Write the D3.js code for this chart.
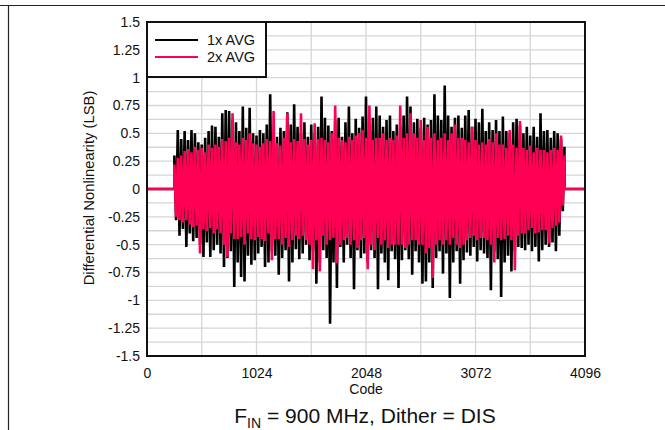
<!DOCTYPE html>
<html><head><meta charset="utf-8">
<script src="https://cdn.jsdelivr.net/npm/d3@7"></script>
<style>
html,body{margin:0;padding:0;background:#fff;}
svg{display:block;font-family:"Liberation Sans",Arial,sans-serif;}
</style></head>
<body><svg id="c" width="665" height="430"></svg>
<script>
// ---- data ----
const codeStart = 256;      // first measured code
const codeStep = 16;        // spacing of the sampled codes
const codeMax = 4095;
const xTicks = [0, 1024, 2048, 3072, 4096];
const yTicks = [-1.5, -1.25, -1, -0.75, -0.5, -0.25, 0, 0.25, 0.5, 0.75, 1, 1.25, 1.5];
const seriesNames = ["1x AVG", "2x AVG"];
const seriesColors = ["#000000", "#ff0055"];

const dnl1x = [
 0.30,-0.28,0.53,-0.42,0.45,-0.36,0.52,-0.52,0.44,-0.40,0.53,-0.47,
 0.50,-0.44,0.42,-0.50,0.40,-0.61,0.46,-0.48,0.52,-0.61,0.57,-0.55,
 0.56,-0.50,0.47,-0.58,0.68,-0.70,0.71,-0.62,0.70,-0.56,0.62,-0.88,
 0.60,-0.66,0.52,-0.79,0.74,-0.83,0.55,-0.60,0.73,-0.68,0.50,-0.64,
 0.48,-0.58,0.53,-0.52,0.50,-0.70,0.58,-0.66,0.85,-0.56,0.50,-0.60,
 0.47,-0.77,0.55,-0.62,0.52,-0.55,0.69,-0.83,0.58,-0.66,0.76,-0.54,
 0.56,-0.63,0.50,-0.58,0.60,-0.50,0.47,-0.64,0.58,-0.55,0.50,-0.85,
 0.56,-0.66,0.83,-0.55,0.64,-0.62,0.57,-1.21,0.52,-0.66,0.62,-0.89,
 0.64,-0.52,0.47,-0.66,0.60,-0.50,0.74,-0.62,0.50,-0.90,0.63,-0.55,
 0.55,-0.62,0.65,-0.58,0.83,-0.66,0.58,-0.55,0.64,-0.62,0.74,-0.90,
 0.66,-0.58,0.56,-0.66,0.62,-0.82,0.66,-0.56,0.52,-0.63,0.58,-0.89,
 0.56,-0.64,0.66,-0.55,0.83,-0.63,0.74,-0.77,0.60,-0.56,0.63,-0.66,
 0.55,-0.85,0.64,-0.83,0.58,-0.66,0.62,-0.89,0.85,-0.62,0.66,-0.56,
 0.62,-0.76,0.93,-0.58,0.66,-0.98,0.56,-0.66,0.64,-0.56,0.66,-0.85,
 0.55,-0.64,0.66,-0.57,0.71,-0.60,0.56,-0.52,0.63,-0.65,0.60,-0.55,
 0.72,-0.58,0.52,-0.62,0.60,-0.91,0.53,-0.56,0.62,-0.63,0.52,-0.97,
 0.65,-0.66,0.52,-0.60,0.50,-0.74,0.60,-0.56,0.63,-0.52,0.57,-0.53,
 0.50,-0.55,0.56,-0.50,0.48,-0.56,0.56,-0.52,0.47,-0.65,0.68,-0.55,
 0.52,-0.50,0.53,-0.52,0.46,-0.48,0.52,-0.56,0.50,-0.42,0.45,-0.20,
 0.38
];
const dnl2x = [
 0.22,-0.25,0.28,-0.28,0.30,-0.30,0.34,-0.28,0.36,-0.32,0.33,-0.34,
 0.38,-0.33,0.35,-0.58,0.37,-0.36,0.33,-0.38,0.40,-0.35,0.37,-0.40,
 0.40,-0.36,0.38,-0.40,0.45,-0.50,0.43,-0.61,0.46,-0.40,0.68,-0.45,
 0.42,-0.45,0.40,-0.43,0.46,-0.50,0.44,-0.40,0.50,-0.45,0.41,-0.46,
 0.40,-0.43,0.38,-0.45,0.41,-0.47,0.45,-0.40,0.43,-0.64,0.70,-0.45,
 0.41,-0.45,0.39,-0.50,0.46,-0.44,0.68,-0.52,0.42,-0.46,0.45,-0.42,
 0.43,-0.45,0.68,-0.42,0.45,-0.46,0.40,-0.50,0.44,-0.72,0.59,-0.46,
 0.45,-0.74,0.46,-0.42,0.44,-0.50,0.42,-0.46,0.50,-0.44,0.75,-0.67,
 0.46,-0.50,0.44,-0.46,0.42,-0.44,0.47,-0.50,0.44,-0.46,0.48,-0.53,
 0.50,-0.46,0.53,-0.44,0.46,-0.72,0.75,-0.50,0.44,-0.55,0.46,-0.44,
 0.46,-0.50,0.50,-0.46,0.44,-0.53,0.46,-0.50,0.44,-0.50,0.48,-0.50,
 0.75,-0.50,0.46,-0.53,0.50,-0.50,0.68,-0.46,0.50,-0.46,0.46,-0.50,
 0.62,-0.50,0.44,-0.58,0.56,-0.53,0.46,-0.80,0.50,-0.50,0.44,-0.46,
 0.46,-0.50,0.50,-0.46,0.44,-0.50,0.50,-0.44,0.58,-0.50,0.46,-0.53,
 0.46,-0.50,0.44,-0.46,0.42,-0.44,0.56,-0.42,0.44,-0.46,0.40,-0.44,
 0.42,-0.44,0.40,-0.46,0.45,-0.50,0.42,-0.66,0.50,-0.44,0.40,-0.46,
 0.40,-0.45,0.37,-0.42,0.53,-0.46,0.40,-0.73,0.37,-0.42,0.61,-0.40,
 0.37,-0.40,0.35,-0.37,0.39,-0.35,0.33,-0.40,0.37,-0.39,0.35,-0.37,
 0.35,-0.37,0.33,-0.49,0.35,-0.35,0.37,-0.33,0.35,-0.30,0.48,-0.15,
 0.30
];

// ---- layout ----
const svg = d3.select("#c");
const L = 147, R = 585, T = 22, B = 356;
const x = d3.scaleLinear().domain([0, 4096]).range([L, R]);
const y = d3.scaleLinear().domain([-1.5, 1.5]).range([B, T]);

// outer frame lines
svg.append("line").attr("x1",0).attr("x2",665).attr("y1",5.5).attr("y2",5.5)
  .attr("stroke","#222").attr("stroke-width",1.2);
svg.append("line").attr("x1",8.5).attr("x2",8.5).attr("y1",5).attr("y2",430)
  .attr("stroke","#222").attr("stroke-width",1.2);

// grid
const g = svg.append("g");
g.selectAll(".hg").data(d3.range(-1.5, 1.5001, 0.125)).join("line")
  .attr("x1", L).attr("x2", R).attr("y1", d => y(d)).attr("y2", d => y(d))
  .attr("stroke", "#d6d6d6").attr("stroke-width", 1.3);
g.selectAll(".vg").data(d3.range(0, 4097, 512)).join("line")
  .attr("x1", d => x(d)).attr("x2", d => x(d)).attr("y1", T).attr("y2", B)
  .attr("stroke", "#d6d6d6").attr("stroke-width", 1.3);

// series
function pts(vals){
  const p = [[0, 0], [codeStart, 0]];
  vals.forEach((v, i) => p.push([codeStart + i * codeStep, v]));
  const last = codeStart + (vals.length - 1) * codeStep;
  p.push([last, 0]);
  p.push([codeMax, 0]);
  return p;
}
const line = d3.line().x(d => x(d[0])).y(d => y(d[1]));
[dnl1x, dnl2x].forEach((vals, k) => {
  svg.append("path").datum(pts(vals)).attr("d", line)
    .attr("fill", "none").attr("stroke", seriesColors[k])
    .attr("stroke-width", 2.6).attr("stroke-linejoin", "bevel");
});

// plot border
svg.append("rect").attr("x", L).attr("y", T).attr("width", R - L).attr("height", B - T)
  .attr("fill", "none").attr("stroke", "#111").attr("stroke-width", 2);

// axes labels
const yAxis = d3.axisLeft(y).tickValues(yTicks).tickSize(0).tickPadding(7)
  .tickFormat(d => String(d));
const ya = svg.append("g").attr("transform", `translate(${L},0)`).call(yAxis);
ya.select(".domain").remove();
ya.selectAll("text").attr("font-size", 14).attr("fill", "#111")
  .attr("font-family", '"Liberation Sans", Arial, sans-serif');

const xAxis = d3.axisBottom(x).tickValues(xTicks).tickSize(0).tickPadding(12)
  .tickFormat(d => String(d));
const xa = svg.append("g").attr("transform", `translate(0,${B})`).call(xAxis);
xa.select(".domain").remove();
xa.selectAll("text").attr("font-size", 14).attr("fill", "#111")
  .attr("font-family", '"Liberation Sans", Arial, sans-serif');

svg.append("text").attr("x", (L + R) / 2).attr("y", 394).attr("text-anchor", "middle")
  .attr("font-size", 14).attr("fill", "#111").text("Code");

svg.append("text").attr("transform", `translate(93.5,188) rotate(-90)`)
  .attr("text-anchor", "middle").attr("font-size", 14.8).attr("fill", "#111")
  .text("Differential Nonlinearity (LSB)");

// bottom title with subscript
const t = svg.append("text").attr("x", 365).attr("y", 423).attr("text-anchor", "middle")
  .attr("font-size", 21).attr("fill", "#111");
t.append("tspan").text("F");
t.append("tspan").attr("font-size", 14).attr("dy", 5).text("IN");
t.append("tspan").attr("dy", -5).text(" = 900 MHz, Dither = DIS");

// legend
const lg = svg.append("g");
lg.append("rect").attr("x", L).attr("y", T).attr("width", 119).attr("height", 55)
  .attr("fill", "#fff").attr("stroke", "#111").attr("stroke-width", 2);
seriesNames.forEach((n, i) => {
  const yy = 40 + i * 17;
  lg.append("line").attr("x1", 155).attr("x2", 198).attr("y1", yy).attr("y2", yy)
    .attr("stroke", seriesColors[i]).attr("stroke-width", 2);
  lg.append("text").attr("x", 207).attr("y", yy + 5).attr("font-size", 14.5)
    .attr("fill", "#111").text(n);
});
</script></body></html>
